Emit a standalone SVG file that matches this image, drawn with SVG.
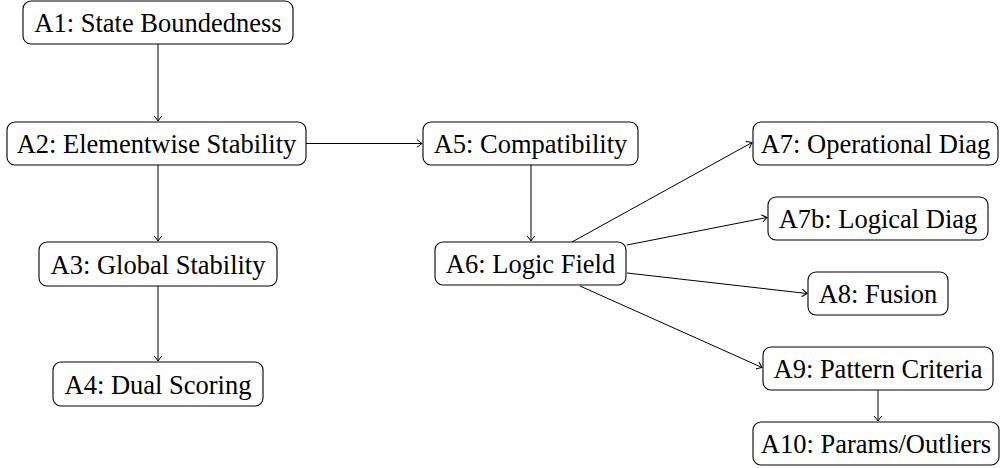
<svg xmlns="http://www.w3.org/2000/svg" width="1000" height="468" viewBox="0 0 1000 468">
<style>
.box{fill:#fff;stroke:#000;stroke-width:1.1}
.lbl{font-family:'Liberation Serif','Tinos','Times New Roman',serif;font-size:26.5px;fill:#000;text-anchor:middle}
.edge{stroke:#000;stroke-width:1;fill:none;marker-end:url(#arr)}
</style>
<defs>
<marker id="arr" viewBox="-6 -5 8 10" markerWidth="8" markerHeight="10" refX="0" refY="0" orient="auto" markerUnits="userSpaceOnUse">
<path d="M -5 -3.8 Q -1.5 -1 0 0 Q -1.5 1 -5 3.8" fill="none" stroke="#000" stroke-width="1"/>
</marker>
</defs>
<rect width="1000" height="468" fill="#fff"/>
<g id="connectors">
<line class="edge" x1="158" y1="44" x2="158" y2="121"/>
<line class="edge" x1="158" y1="165" x2="158" y2="241"/>
<line class="edge" x1="158" y1="286" x2="158" y2="361"/>
<line class="edge" x1="306" y1="143.5" x2="422" y2="143.5"/>
<line class="edge" x1="531" y1="165" x2="531" y2="241"/>
<line class="edge" x1="572" y1="242" x2="752" y2="142.5"/>
<line class="edge" x1="627" y1="245" x2="767" y2="217.5"/>
<line class="edge" x1="627" y1="273" x2="807" y2="293.5"/>
<line class="edge" x1="580" y1="286" x2="762" y2="367.5"/>
<line class="edge" x1="878" y1="390" x2="878" y2="421"/>
</g>
<g id="A1"><rect class="box" x="23" y="1" width="270" height="43" rx="8"/><text class="lbl" x="158" y="32">A1: State Boundedness</text></g>
<g id="A2"><rect class="box" x="7" y="122" width="299" height="43" rx="8"/><text class="lbl" x="156.5" y="153">A2: Elementwise Stability</text></g>
<g id="A3"><rect class="box" x="39" y="242" width="238" height="44" rx="8"/><text class="lbl" x="158" y="273.5" font-family="DejaVu Serif">A3: Global Stability</text></g>
<g id="A4"><rect class="box" x="53" y="362" width="210" height="44" rx="8"/><text class="lbl" x="158" y="393.5">A4: Dual Scoring</text></g>
<g id="A5"><rect class="box" x="423" y="122" width="215" height="43" rx="8"/><text class="lbl" x="530.5" y="153">A5: Compatibility</text></g>
<g id="A6"><rect class="box" x="435" y="242" width="191" height="43" rx="8"/><text class="lbl" x="530.5" y="273">A6: Logic Field</text></g>
<g id="A7"><rect class="box" x="753" y="122" width="245" height="43" rx="8"/><text class="lbl" x="875.5" y="153">A7: Operational Diag</text></g>
<g id="A7b"><rect class="box" x="768" y="197" width="220" height="43" rx="8"/><text class="lbl" x="878" y="228">A7b: Logical Diag</text></g>
<g id="A8"><rect class="box" x="808" y="272" width="140" height="43" rx="8"/><text class="lbl" x="878" y="303">A8: Fusion</text></g>
<g id="A9"><rect class="box" x="763" y="347" width="230" height="43" rx="8"/><text class="lbl" x="878" y="378">A9: Pattern Criteria</text></g>
<g id="A10"><rect class="box" x="753" y="422" width="246" height="43" rx="8"/><text class="lbl" x="876" y="453">A10: Params/Outliers</text></g>
</svg>
